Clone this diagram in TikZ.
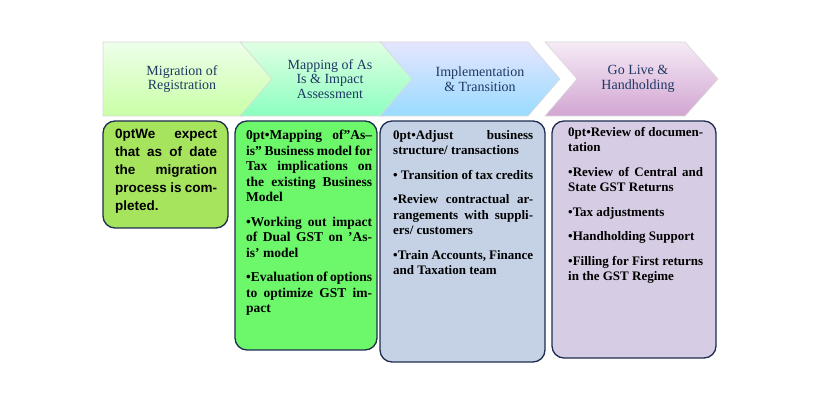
\documentclass[tikz,border=0pt]{standalone}
\usepackage{fontspec}
\setmainfont{Liberation Serif}
\newfontfamily\boxsans{Liberation Sans}
\definecolor{navy}{HTML}{1F2D50}
\definecolor{hdr}{HTML}{1F3864}
\definecolor{b1}{HTML}{A6E45E}
\definecolor{b2}{HTML}{6CF86A}
\definecolor{b3}{HTML}{C5D2E6}
\definecolor{b4}{HTML}{D6CCE4}
\tikzset{
 chev/.style={draw=white!85!black, line width=0.6pt},
 hdrtxt/.style={text=hdr, font=\fontsize{14}{14.5}\selectfont, align=center},
 bx/.style={draw=navy, line width=1.3pt, rounded corners=12pt},
 bxt/.style={font=\bfseries\fontsize{13}{15.5}\selectfont\lefthyphenmin=62, align=justify, anchor=north west, inner sep=0pt},
}
\newcommand{\itm}[1]{#1\par\vspace{9pt}}
\begin{document}
\begin{tikzpicture}[x=1pt,y=-1pt]
\useasboundingbox[fill=white] (0,0) rectangle (820,406);
\shade[chev, top color=yellow!15!green!8!white, bottom color=yellow!40!green!35!white]
 (103,42) -- (243,42) -- (275,79) -- (243,116) -- (103,116) -- cycle;
\shade[chev, top color=cyan!10!green!12!white, bottom color=cyan!45!green!45!white]
 (240,42) -- (382,42) -- (415,79) -- (382,116) -- (240,116) -- (272,79) -- cycle;
\shade[chev, top color=blue!10!white, bottom color=blue!35!cyan!40!white]
 (380,42) -- (528,42) -- (560,79) -- (528,116) -- (380,116) -- (412,79) -- cycle;
\shade[chev, top color=violet!8!white, bottom color=violet!35!white]
 (545,42) -- (685,42) -- (718,79) -- (685,116) -- (545,116) -- (577,79) -- cycle;
\node[hdrtxt] (h1) at (182,79) {Migration of\\Registration};
\node[hdrtxt] (h2) at (330,79) {Mapping of As\\Is \& Impact\\Assessment};
\node[hdrtxt] (h3) at (480,79) {Implementation\\\& Transition};
\node[hdrtxt] (h4) at (638,79) {Go Live \&\\Handholding};
\draw[bx, fill=b1] (103,121) rectangle (228,228);
\draw[bx, fill=b2] (235,121) rectangle (377,350);
\draw[bx, fill=b3] (380,121) rectangle (545,362);
\draw[bx, fill=b4] (552,121) rectangle (716,358);
\node[bxt, text width=102pt, font=\boxsans\bfseries\fontsize{13.5}{18}\selectfont\lefthyphenmin=62] (t1) at (115,129)
 {We expect that as of date the migration process is completed.};
\node[bxt, text width=126pt, font=\bfseries\fontsize{13.5}{15.5}\selectfont\lefthyphenmin=62] (t2) at (246,130)
 {\itm{•Mapping of”As–is” Business model for Tax implications on the existing Business Model}
  \itm{•Working out impact of Dual GST on ’As-is’ model}
  •Evaluation of options to optimize GST impact};
\node[bxt, text width=140pt] (t3) at (393,130)
 {\itm{•Adjust business structure/ transactions}
  \itm{• Transition of tax credits}
  \itm{•Review contractual arrangements with suppliers/ customers}
  •Train Accounts, Finance and Taxation team};
\node[bxt, text width=135pt] (t4) at (568,127)
 {\itm{•Review of documentation}
  \itm{•Review of Central and State GST Returns}
  \itm{•Tax adjustments}
  \itm{•Handholding Support}
  •Filling for First returns in the GST Regime};
\end{tikzpicture}
\end{document}
